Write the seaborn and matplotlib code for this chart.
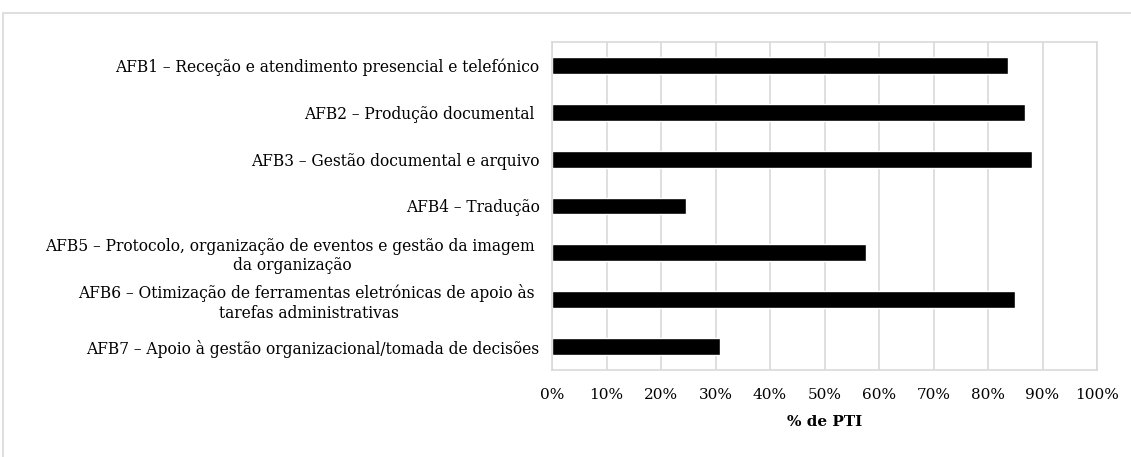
import pandas as pd
import matplotlib.pyplot as plt
import seaborn as sns
from matplotlib.ticker import PercentFormatter

categories = [
    'AFB1 – Receção e atendimento presencial e telefónico',
    'AFB2 – Produção documental ',
    'AFB3 – Gestão documental e arquivo',
    'AFB4 – Tradução',
    'AFB5 – Protocolo, organização de eventos e gestão da imagem \nda organização',
    'AFB6 – Otimização de ferramentas eletrónicas de apoio às \ntarefas administrativas',
    'AFB7 – Apoio à gestão organizacional/tomada de decisões',
]
values = [83.6, 86.7, 88.1, 24.5, 57.6, 84.9, 30.8]

df = pd.DataFrame({'afb': categories, 'pct': values})

sns.set_theme(style='white')
plt.rcParams['font.family'] = ['DejaVu Serif']
plt.rcParams['text.color'] = 'black'
plt.rcParams['xtick.color'] = 'black'
plt.rcParams['ytick.color'] = 'black'
plt.rcParams['axes.labelcolor'] = 'black'

fig = plt.figure(figsize=(11.31, 4.57), dpi=100)
ax = fig.add_axes([552 / 1131, 1 - 370 / 457, 545 / 1131, 328 / 457])

sns.barplot(data=df, x='pct', y='afb', color='black', width=0.36,
            saturation=1, orient='h', ax=ax)

ax.set_xlim(0, 100)
ax.set_xticks(range(0, 101, 10))
ax.xaxis.set_major_formatter(PercentFormatter(decimals=0))
ax.grid(axis='x', color='#d9d9d9', linewidth=1.2)
ax.set_axisbelow(True)
for s in ax.spines.values():
    s.set_color('#d9d9d9')
    s.set_linewidth(1.2)

ax.tick_params(axis='x', labelsize=11, length=0, pad=13)
ax.tick_params(axis='y', labelsize=11.2, length=0, pad=9)
for lbl in ax.get_yticklabels():
    lbl.set_multialignment('center')
ax.set_ylabel('')
ax.set_xlabel('% de PTI', fontsize=11, fontweight='bold', labelpad=9)

# chart border (cropped on right and bottom)
fig.patches.append(plt.Rectangle((3 / 1131, -0.05), 1.1, 1.05 - 13 / 457,
                                 transform=fig.transFigure, fill=False,
                                 edgecolor='#d9d9d9', linewidth=1.2))

fig.savefig('out.png', dpi=100)
